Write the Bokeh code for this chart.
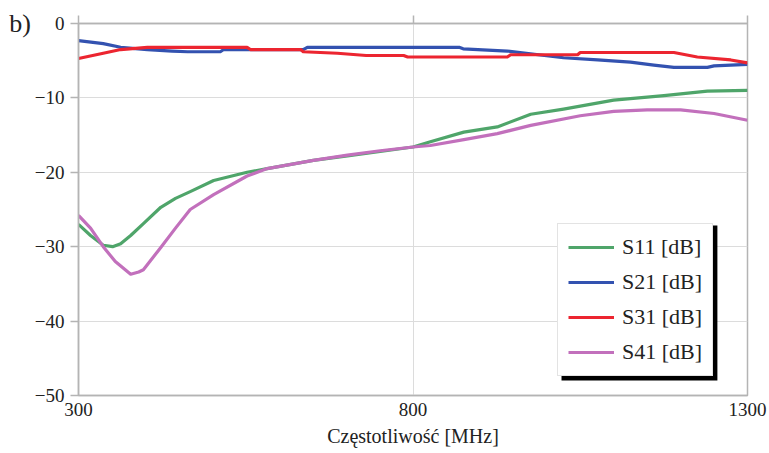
from bokeh.plotting import figure
from bokeh.models import (Legend, LegendItem, FixedTicker, LinearAxis, BoxAnnotation, Range1d)
from bokeh.embed import file_html
from bokeh.resources import INLINE

# ---- data ----
freq_s11 = [300, 318, 337, 351, 363, 378, 397, 423, 445, 467, 502, 552, 582, 651, 702, 751,
            800, 826, 876, 926, 976, 1025, 1100, 1175, 1240, 1300]
s11 = [-27.0, -28.5, -29.8, -30.0, -29.6, -28.5, -26.9, -24.7, -23.5, -22.6, -21.1, -20.0,
       -19.5, -18.4, -17.8, -17.2, -16.6, -15.9, -14.6, -13.9, -12.2, -11.5, -10.3, -9.7,
       -9.1, -9.0]

freq_s21 = [300, 337, 363, 403, 440, 463, 512, 517, 636, 642, 869, 875, 941, 1025, 1076,
            1125, 1160, 1190, 1240, 1250, 1300]
s21 = [-2.3, -2.7, -3.2, -3.5, -3.7, -3.8, -3.8, -3.5, -3.5, -3.2, -3.2, -3.4, -3.7, -4.6,
       -4.9, -5.2, -5.6, -5.9, -5.9, -5.7, -5.5]

freq_s31 = [300, 337, 363, 403, 552, 557, 632, 636, 687, 730, 786, 792, 941, 946, 1046,
            1050, 1190, 1225, 1275, 1300]
s31 = [-4.7, -4.0, -3.5, -3.2, -3.2, -3.5, -3.5, -3.8, -4.0, -4.3, -4.3, -4.5, -4.5, -4.2,
       -4.2, -3.9, -3.9, -4.5, -4.9, -5.3]

freq_s41 = [300, 318, 337, 355, 378, 390, 397, 423, 445, 467, 502, 552, 582, 651, 702, 751,
            800, 826, 876, 926, 976, 1050, 1100, 1150, 1200, 1250, 1300]
s41 = [-25.8, -27.5, -30.0, -32.0, -33.7, -33.4, -33.1, -30.1, -27.5, -25.0, -23.0, -20.5,
       -19.5, -18.4, -17.7, -17.1, -16.6, -16.4, -15.6, -14.8, -13.7, -12.4, -11.8, -11.6,
       -11.6, -12.1, -13.0]

x_ticks = [300, 800, 1300]
y_ticks = [-50, -40, -30, -20, -10, 0]
series_labels = ["S11 [dB]", "S21 [dB]", "S31 [dB]", "S41 [dB]"]
colors = ["#4fa56a", "#3352b0", "#ec2530", "#c270bc"]

FONT = "Liberation Serif"
AXIS_GRAY = "#b4b4b4"

p = figure(width=769, height=453, output_backend="svg", toolbar_location=None,
           x_range=Range1d(300, 1300), y_range=Range1d(-50, 0),
           min_border_left=78, min_border_right=22, min_border_top=23, min_border_bottom=58,
           x_axis_label="Częstotliwość [MHz]")
p.background_fill_color = "white"
p.border_fill_color = "white"
p.outline_line_color = AXIS_GRAY
p.outline_line_width = 1.5

# axes
xa = p.xaxis[0]
xa.ticker = FixedTicker(ticks=x_ticks)
xa.major_tick_out = 0
xa.major_tick_in = 0
xa.minor_tick_out = 0
xa.minor_tick_in = 0
xa.axis_line_color = AXIS_GRAY
xa.axis_line_width = 1.5
xa.major_label_text_font = FONT
xa.major_label_text_font_size = "19px"
xa.major_label_text_color = "#222222"
xa.major_label_standoff = 7
xa.axis_label_text_font = FONT
xa.axis_label_text_font_size = "20px"
xa.axis_label_text_font_style = "normal"
xa.axis_label_text_color = "#222222"
xa.axis_label_standoff = 6

ya = p.yaxis[0]
ya.ticker = FixedTicker(ticks=y_ticks)
ya.major_label_overrides = {t: (str(t).replace("-", "\u2212")) for t in y_ticks}
ya.major_tick_out = 8
ya.major_tick_in = 0
ya.minor_tick_out = 0
ya.minor_tick_in = 0
ya.major_tick_line_color = AXIS_GRAY
ya.major_tick_line_width = 1.5
ya.axis_line_color = AXIS_GRAY
ya.axis_line_width = 1.5
ya.major_label_text_font = FONT
ya.major_label_text_font_size = "19px"
ya.major_label_text_color = "#222222"
ya.major_label_standoff = 6
# panel tag "b)" drawn as the y axis' own (horizontal) label at its top end
ya.axis_label = "b)"
ya.axis_label_orientation = "horizontal"
ya.axis_label_align = "end"
ya.axis_label_text_font = FONT
ya.axis_label_text_font_size = "26px"
ya.axis_label_text_font_style = "normal"
ya.axis_label_text_color = "#222222"
ya.axis_label_standoff = 1

top_axis = LinearAxis(ticker=FixedTicker(ticks=x_ticks),
                      major_label_overrides={t: "" for t in x_ticks},
                      major_tick_out=8, major_tick_in=0, minor_tick_out=0, minor_tick_in=0,
                      major_tick_line_color=AXIS_GRAY, major_tick_line_width=1.5,
                      axis_line_color=AXIS_GRAY, axis_line_width=1.5,
                      major_label_standoff=0)
p.add_layout(top_axis, "above")

p.xgrid.ticker = FixedTicker(ticks=x_ticks)
p.ygrid.ticker = FixedTicker(ticks=y_ticks)
p.xgrid.grid_line_color = "#dcdcdc"
p.ygrid.grid_line_color = "#dcdcdc"
p.xgrid.grid_line_width = 1
p.ygrid.grid_line_width = 1

# lines
renderers = []
for fx, fy, c in zip([freq_s11, freq_s21, freq_s31, freq_s41], [s11, s21, s31, s41], colors):
    r = p.line(fx, fy, line_color=c, line_width=3.2, line_join="round")
    renderers.append(r)

# legend shadow
shadow = BoxAnnotation(left=1022, right=1255, top=-27.15, bottom=-47.98,
                       fill_color="black", fill_alpha=1, line_color=None, level="annotation")
p.add_layout(shadow)

legend = Legend(items=[LegendItem(label=l, renderers=[r]) for l, r in zip(series_labels, renderers)],
                location=(479, 19), orientation="vertical",
                label_text_font=FONT, label_text_font_size="22px", label_text_color="#222222",
                glyph_width=46, glyph_height=18, label_height=18, label_standoff=8,
                spacing=9, padding=10, margin=0,
                border_line_color="#c8c8c8", border_line_width=1,
                background_fill_color="white", background_fill_alpha=1)
p.add_layout(legend, "center")

open("out.html", "w").write(file_html(p, INLINE))
